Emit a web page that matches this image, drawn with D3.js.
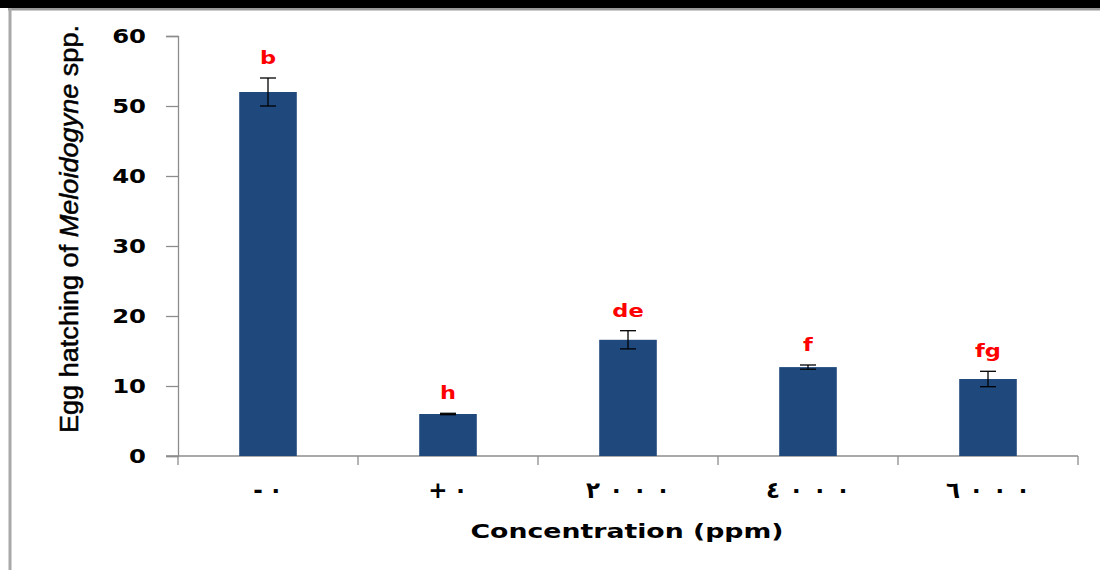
<!DOCTYPE html>
<html>
<head>
<meta charset="utf-8">
<script src="https://cdn.jsdelivr.net/npm/d3@7"></script>
<style>
html,body{margin:0;padding:0;background:#fff;}
svg{display:block;}
</style>
</head>
<body>
<svg id="chart" width="1100" height="570"></svg>
<script>
const categories = ["-٠", "+٠", "٢٠٠٠", "٤٠٠٠", "٦٠٠٠"];
const values = [52.0, 6.0, 16.6, 12.7, 11.0];
const errors = [2.0, 0.1, 1.3, 0.3, 1.1];
const letters = ["b", "h", "de", "f", "fg"];
const yTicks = [0, 10, 20, 30, 40, 50, 60];

(function(){
const svg = d3.select("#chart");
const W = 1100, H = 570;

function stretch(sel, f) {
  sel.each(function(){
    const L = this.getComputedTextLength();
    d3.select(this).attr("textLength", L * f).attr("lengthAdjust", "spacingAndGlyphs");
  });
}

// frame
svg.append("rect").attr("x",0).attr("y",0).attr("width",W).attr("height",8).attr("fill","#000");
svg.append("rect").attr("x",8).attr("y",8).attr("width",W-8).attr("height",2.5).attr("fill","#9a9a9a");
svg.append("rect").attr("x",8.5).attr("y",8).attr("width",3).attr("height",H-8).attr("fill","#a8a8a8");

const pLeft = 178, pRight = 1078, pTop = 36, pBottom = 456;
const x = d3.scaleBand().domain(categories).range([pLeft, pRight]).paddingInner(0.68).paddingOuter(0.34);
const y = d3.scaleLinear().domain([0, 60]).range([pBottom, pTop]);

const axisColor = "#8c8c8c";

// y axis
const yAxis = svg.append("g").attr("transform", `translate(${pLeft},0)`)
  .call(d3.axisLeft(y).tickValues(yTicks).tickSize(12).tickPadding(20).tickFormat(d3.format("d")));
yAxis.select(".domain").attr("stroke", axisColor).attr("stroke-width",1.3);
yAxis.selectAll(".tick line").attr("stroke", axisColor).attr("stroke-width",1.3);
const yTickText = yAxis.selectAll(".tick text").attr("fill","#000").attr("font-family","'DejaVu Sans', Verdana, sans-serif")
  .attr("font-weight","bold").attr("font-size","19px");
stretch(yTickText, 1.28);

// x axis with boundary ticks
const xAxisG = svg.append("g").attr("transform", `translate(0,${pBottom})`);
xAxisG.append("line").attr("x1", pLeft - 12).attr("x2", pRight).attr("y1",0).attr("y2",0)
  .attr("stroke", axisColor).attr("stroke-width",1.3);
const step = x.step();
const boundaries = categories.map((c,i)=> x(c) - x.paddingInner()*step/2 ).concat([pRight]);
xAxisG.selectAll("line.b").data(boundaries).enter().append("line").attr("class","b")
  .attr("x1",d=>d).attr("x2",d=>d).attr("y1",0).attr("y2",9)
  .attr("stroke", axisColor).attr("stroke-width",1.3);
const catText = xAxisG.selectAll("text.cat").data(categories).enter().append("text").attr("class","cat")
  .attr("x", d => x(d) + x.bandwidth()/2).attr("y", 42)
  .attr("text-anchor","middle")
  .attr("font-family","'DejaVu Sans', sans-serif").attr("font-weight","bold").attr("font-size","23px")
  .attr("direction","ltr")
  .attr("fill","#000")
  .text(d => d);
catText.each(function(d){
  const L = this.getComputedTextLength();
  const n = d.length;
  const gap = n > 2 ? 9 : 5;
  d3.select(this).attr("textLength", L + (n - 1) * gap + 1).attr("lengthAdjust", "spacing");
});

// bars
const data = categories.map((c,i)=>({c, v: values[i], e: errors[i], l: letters[i]}));
svg.selectAll("rect.bar").data(data).enter().append("rect").attr("class","bar")
  .attr("x", d => x(d.c)).attr("width", x.bandwidth())
  .attr("y", d => y(d.v)).attr("height", d => y(0) - y(d.v))
  .attr("fill", "#1F497D");

// error bars
const eb = svg.selectAll("g.err").data(data).enter().append("g").attr("class","err");
eb.append("line").attr("x1", d=>x(d.c)+x.bandwidth()/2).attr("x2", d=>x(d.c)+x.bandwidth()/2)
  .attr("y1", d=>y(d.v+d.e)).attr("y2", d=>y(d.v-d.e)).attr("stroke","#000").attr("stroke-width",1.3);
[1,-1].forEach(s=>{
  eb.append("line").attr("x1", d=>x(d.c)+x.bandwidth()/2-8).attr("x2", d=>x(d.c)+x.bandwidth()/2+8)
    .attr("y1", d=>y(d.v+s*d.e)).attr("y2", d=>y(d.v+s*d.e)).attr("stroke","#000").attr("stroke-width",1.3);
});

// letters
const lt = svg.selectAll("text.lt").data(data).enter().append("text").attr("class","lt")
  .attr("x", d=>x(d.c)+x.bandwidth()/2).attr("y", d=>y(d.v+d.e)-14)
  .attr("text-anchor","middle").attr("fill","#FF0000")
  .attr("font-family","'DejaVu Sans', Verdana, sans-serif").attr("font-weight","bold").attr("font-size","18px")
  .text(d=>d.l);
stretch(lt, 1.25);

// x title
const xt = svg.append("text").attr("x", 627).attr("y", 538).attr("text-anchor","middle")
  .attr("font-family","'DejaVu Sans', Verdana, sans-serif").attr("font-weight","bold").attr("font-size","20px")
  .attr("fill","#000").text("Concentration (ppm)");
xt.attr("textLength", 313).attr("lengthAdjust","spacingAndGlyphs");

// y title
const yt = svg.append("text").attr("transform","translate(78,229) rotate(-90)")
  .attr("text-anchor","middle")
  .attr("font-family","'Liberation Sans Narrow', 'Arial Narrow', 'Liberation Sans', sans-serif")
  .attr("font-size","25px").attr("fill","#000")
  .attr("stroke","#000").attr("stroke-width",0.5)
  .attr("textLength", 408).attr("lengthAdjust","spacingAndGlyphs");
yt.append("tspan").text("Egg hatching of ");
yt.append("tspan").attr("font-style","italic").text("Meloidogyne");
yt.append("tspan").text(" spp.");
})();
</script>
</body>
</html>
